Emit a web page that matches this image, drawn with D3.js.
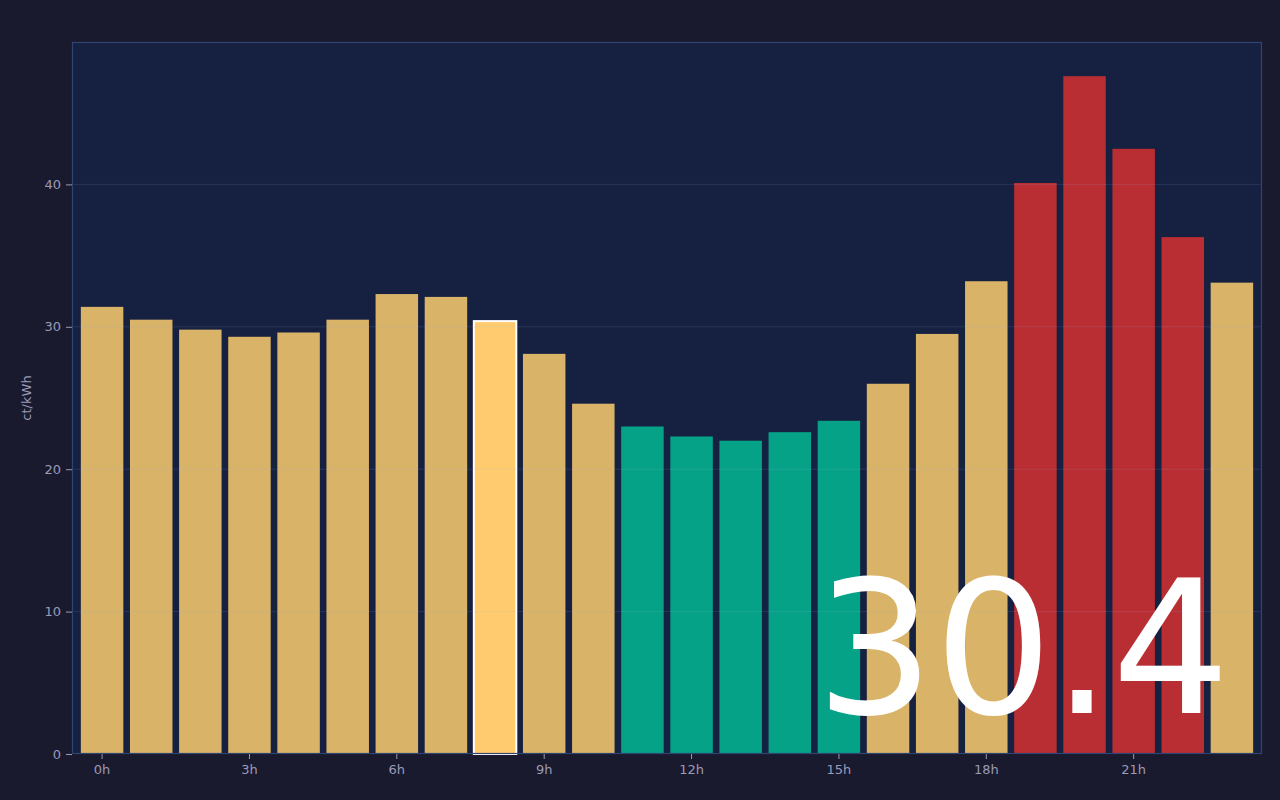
<!DOCTYPE html>
<html lang="en">
<head>
<meta charset="UTF-8">
<title>Strompreis heute</title>
<script src="https://d3js.org/d3.v7.min.js"></script>
<style>
    html, body { margin: 0; padding: 0; background: #1a1a2e; }
    svg { display: block; font-family: "DejaVu Sans", sans-serif; }
</style>
</head>
<body>
<svg id="main" width="1280" height="800"></svg>
<script>
    // hourly prices in ct/kWh
    const hours = d3.range(0, 24);
    const prices = [31.4, 30.5, 29.8, 29.3, 29.6, 30.5, 32.3, 32.1, 30.4, 28.1, 24.6, 23.0,
                    22.3, 22.0, 22.6, 23.4, 26.0, 29.5, 33.2, 40.1, 47.6, 42.5, 36.3, 33.1];
    // price level per hour: mid / low / high
    const levels = ['mid','mid','mid','mid','mid','mid','mid','mid','mid','mid','mid','low',
                    'low','low','low','low','mid','mid','mid','high','high','high','high','mid'];
    const currentHour = 8;
    const yTicks = [0, 10, 20, 30, 40];
    const xTickHours = [0, 3, 6, 9, 12, 15, 18, 21];
    const yLabel = 'ct/kWh';

    const colors = {mid: '#d9b368', low: '#05a287', high: '#b92e33', current: '#ffcb6e'};

    const svg = d3.select('svg#main');
    const m = {left: 72, right: 18, top: 42, bottom: 46};
    const W = 1280, H = 800;

    const x = d3.scaleBand()
        .domain(hours)
        .range([m.left, W - m.right])
        .paddingInner(0.135)
        .paddingOuter(0.18);
    const y = d3.scaleLinear()
        .domain([0, 50])
        .range([H - m.bottom, m.top]);

    // plot background
    svg.append('rect')
        .attr('x', m.left).attr('y', m.top)
        .attr('width', W - m.right - m.left)
        .attr('height', H - m.bottom - m.top)
        .attr('fill', '#162040');

    // bars
    svg.append('g')
        .selectAll('rect')
        .data(hours)
        .join('rect')
        .attr('x', d => x(d))
        .attr('y', d => y(prices[d]))
        .attr('width', x.bandwidth())
        .attr('height', d => y(0) - y(prices[d]))
        .attr('fill', d => d === currentHour ? colors.current : colors[levels[d]])
        .attr('stroke', d => d === currentHour ? '#ffffff' : 'none')
        .attr('stroke-width', 2);

    // grid lines (drawn over the bars, faint)
    svg.append('g')
        .selectAll('line')
        .data(yTicks.slice(1))
        .join('line')
        .attr('x1', m.left).attr('x2', W - m.right)
        .attr('y1', d => y(d)).attr('y2', d => y(d))
        .attr('stroke', '#9fb4e8')
        .attr('stroke-opacity', 0.14)
        .attr('stroke-width', 1);

    // frame
    svg.append('rect')
        .attr('x', m.left + 0.5).attr('y', m.top + 0.5)
        .attr('width', W - m.right - m.left - 1)
        .attr('height', H - m.bottom - m.top - 1)
        .attr('fill', 'none')
        .attr('stroke', '#2f4470')
        .attr('stroke-width', 1.2);

    // axes
    const xAxis = svg.append('g')
        .attr('transform', 'translate(0,' + (H - m.bottom) + ')')
        .call(d3.axisBottom(x).tickValues(xTickHours).tickFormat(d => d + 'h').tickSize(5).tickPadding(6));
    const yAxis = svg.append('g')
        .attr('transform', 'translate(' + m.left + ',0)')
        .call(d3.axisLeft(y).tickValues(yTicks).tickSize(6).tickPadding(5));
    [xAxis, yAxis].forEach(a => {
        a.select('.domain').remove();
        a.selectAll('line').attr('stroke', '#9a9ab8');
        a.selectAll('text').attr('fill', '#9a9ab8').style('font-size', '13px')
            .style('font-family', '"DejaVu Sans", sans-serif');
    });

    svg.append('text')
        .attr('transform', 'translate(31,' + ((m.top + H - m.bottom) / 2) + ') rotate(-90)')
        .attr('text-anchor', 'middle')
        .attr('fill', '#9a9ab8')
        .style('font-size', '13px')
        .text(yLabel);

    // current price, big
    svg.append('text')
        .attr('x', 1230)
        .attr('y', 713)
        .attr('text-anchor', 'end')
        .attr('fill', '#ffffff')
        .style('font-size', '186px')
        .text(d3.format('.1f')(prices[currentHour]));
</script>
</body>
</html>
